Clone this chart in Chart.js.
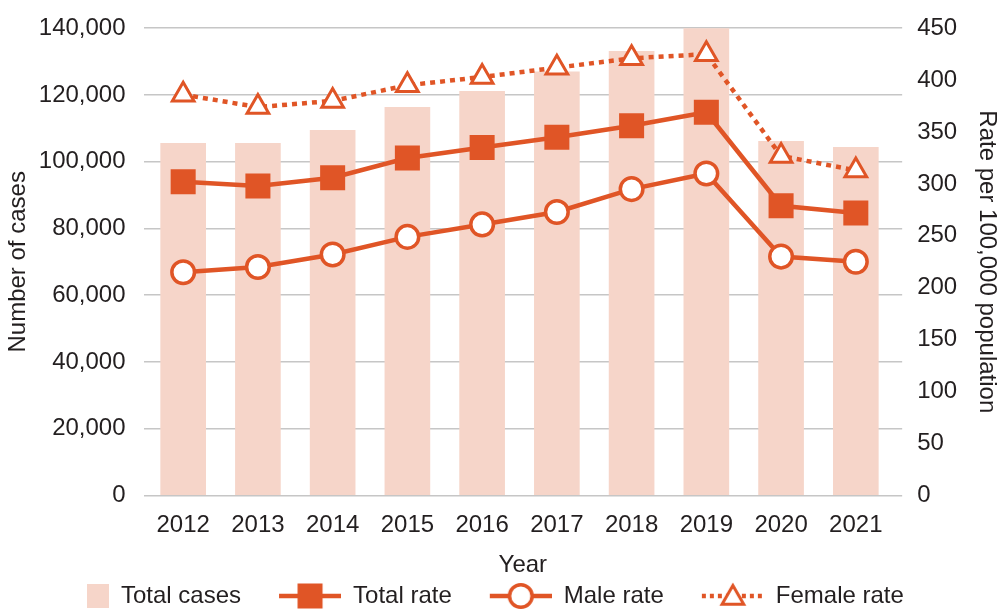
<!DOCTYPE html>
<html>
<head>
<meta charset="utf-8">
<script src="https://cdn.jsdelivr.net/npm/chart.js@4.4.1/dist/chart.umd.min.js"></script>
<style>
    html, body { margin: 0; padding: 0; background: #fff; }
    #wrap { width: 1001px; height: 613px; position: relative; }
</style>
</head>
<body>
<div id="wrap"><canvas id="chart"></canvas></div>
<script>
// Values
const years = [2012, 2013, 2014, 2015, 2016, 2017, 2018, 2019, 2020, 2021];
const totalCases = [105500, 105500, 109400, 116300, 121100, 126900, 133100, 140000, 106100, 104300];
const totalRate = [302, 298, 306, 325, 335, 345, 356, 369, 279, 272];
const maleRate = [215, 220, 232, 249, 261, 273, 295, 310, 230, 225];
const femaleRate = [386, 374, 380, 395, 403, 412, 421, 425, 327, 313];

const casesTicks = { min: 0, max: 140000, step: 20000 };
const rateTicks = { min: 0, max: 450, step: 50 };
// the plot in the reference leaves a bit more room right of 2021 than left of 2012
const yearRange = { min: 2011.47, max: 2021.62 };

const ORANGE = '#e05526';
const PEACH = '#f6d5c9';
const TEXT = '#231f20';
const GRID = '#c6c6c6';
const FONT = "'Liberation Sans', Arial, sans-serif";
const ICON_W = 96;

const points = (values) => values.map((v, i) => ({ x: years[i], y: v }));

// Legend symbols: line + marker, drawn into small canvases used as point styles
function legendIcon(kind) {
    const c = document.createElement('canvas');
    c.width = ICON_W;
    c.height = 30;
    const ctx = c.getContext('2d');
    const cx = ICON_W - 31, cy = 15;
    if (kind === 'bar') {
        ctx.fillStyle = PEACH;
        ctx.fillRect(ICON_W - 22, 3, 22, 24);
        return c;
    }
    ctx.strokeStyle = ORANGE;
    ctx.lineWidth = 4.5;
    if (kind === 'triangle') ctx.setLineDash([4, 4]);
    ctx.beginPath();
    ctx.moveTo(ICON_W - 62, cy);
    ctx.lineTo(ICON_W, cy);
    ctx.stroke();
    ctx.setLineDash([]);
    if (kind === 'rect') {
        ctx.fillStyle = ORANGE;
        ctx.fillRect(cx - 12.5, cy - 12.5, 25, 25);
    } else if (kind === 'circle') {
        ctx.fillStyle = '#fff';
        ctx.lineWidth = 3.5;
        ctx.beginPath();
        ctx.arc(cx, cy, 11.3, 0, Math.PI * 2);
        ctx.fill();
        ctx.stroke();
    } else {
        const r = 12.5;
        ctx.fillStyle = '#fff';
        ctx.lineWidth = 3;
        ctx.beginPath();
        ctx.moveTo(cx, cy + 2 - r);
        ctx.lineTo(cx + r * Math.sin(2 * Math.PI / 3), cy + 2 + r / 2);
        ctx.lineTo(cx - r * Math.sin(2 * Math.PI / 3), cy + 2 + r / 2);
        ctx.closePath();
        ctx.fill();
        ctx.stroke();
    }
    return c;
}

const icons = [legendIcon('bar'), legendIcon('rect'), legendIcon('circle'), legendIcon('triangle')];

Chart.defaults.font.family = FONT;
Chart.defaults.font.size = 24;
Chart.defaults.color = TEXT;

new Chart(document.getElementById('chart'), {
    data: {
        datasets: [{
            type: 'bar',
            label: 'Total cases',
            data: points(totalCases),
            yAxisID: 'y',
            backgroundColor: PEACH,
            barThickness: 45,
            order: 4
        }, {
            type: 'line',
            label: 'Total rate',
            data: points(totalRate),
            yAxisID: 'y1',
            borderColor: ORANGE,
            borderWidth: 4.5,
            pointStyle: 'rect',
            pointRadius: 17.7,
            pointHoverRadius: 17.7,
            pointBackgroundColor: ORANGE,
            pointBorderWidth: 0,
            order: 2
        }, {
            type: 'line',
            label: 'Male rate',
            data: points(maleRate),
            yAxisID: 'y1',
            borderColor: ORANGE,
            borderWidth: 4.5,
            pointStyle: 'circle',
            pointRadius: 11.3,
            pointHoverRadius: 11.3,
            pointBackgroundColor: '#fff',
            pointBorderColor: ORANGE,
            pointBorderWidth: 3.5,
            order: 1
        }, {
            type: 'line',
            label: 'Female rate',
            data: points(femaleRate),
            yAxisID: 'y1',
            borderColor: ORANGE,
            borderWidth: 4.5,
            borderDash: [5, 5],
            pointStyle: 'triangle',
            pointRadius: 12.5,
            pointHoverRadius: 12.5,
            pointBackgroundColor: '#fff',
            pointBorderColor: ORANGE,
            pointBorderWidth: 3,
            order: 3
        }]
    },
    options: {
        responsive: true,
        maintainAspectRatio: false,
        animation: false,
        layout: { padding: { left: 9, right: 0, top: 4, bottom: -5 } },
        plugins: {
            tooltip: { enabled: false },
            legend: {
                position: 'bottom',
                align: 'start',
                labels: {
                    usePointStyle: true,
                    pointStyleWidth: ICON_W,
                    padding: 4,
                    color: TEXT,
                    font: { size: 24 },
                    generateLabels: (chart) => chart.data.datasets.map((ds, i) => ({
                        text: ds.label,
                        pointStyle: icons[i],
                        fontColor: TEXT,
                        hidden: false,
                        datasetIndex: i,
                        lineWidth: 0
                    }))
                }
            }
        },
        scales: {
            x: {
                type: 'linear',
                offset: false,
                min: yearRange.min,
                max: yearRange.max,
                grid: { display: false, offset: false },
                border: { display: false },
                ticks: {
                    stepSize: 1,
                    includeBounds: false,
                    autoSkip: false,
                    padding: 8,
                    color: TEXT,
                    callback: (v) => Number.isInteger(v) ? String(v) : ''
                },
                title: { display: true, text: 'Year', color: TEXT, padding: { top: 3, bottom: 0 } }
            },
            y: {
                position: 'left',
                min: casesTicks.min,
                max: casesTicks.max,
                ticks: { stepSize: casesTicks.step, padding: 18, color: TEXT, font: { lineHeight: 0.85 } },
                grid: { color: GRID, lineWidth: 1.5, drawTicks: false },
                border: { display: false },
                title: { display: true, text: 'Number of cases', color: TEXT, padding: { top: -5, bottom: -12 } }
            },
            y1: {
                position: 'right',
                min: rateTicks.min,
                max: rateTicks.max,
                ticks: { stepSize: rateTicks.step, padding: 15, color: TEXT, font: { lineHeight: 0.85 } },
                grid: { drawOnChartArea: false, drawTicks: false },
                border: { display: false },
                title: { display: true, text: 'Rate per 100,000 population', color: TEXT, padding: { top: 0, bottom: 0 } }
            }
        }
    }
});
</script>
</body>
</html>
